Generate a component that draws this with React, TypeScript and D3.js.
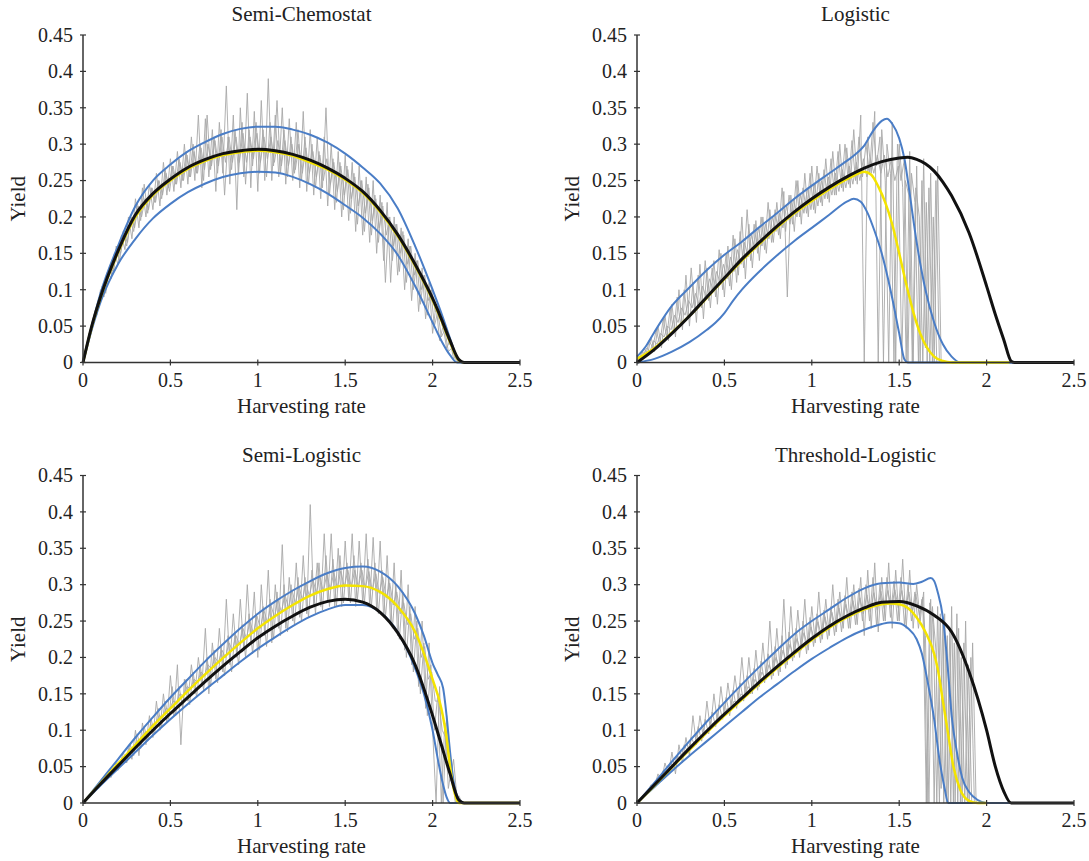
import React from 'react';
import * as d3 from 'd3';

type Pt = [number, number];

// ---------- axis ticks ----------
const xTickValues = [0, 0.5, 1, 1.5, 2, 2.5];
const xTickLabels = ['0', '0.5', '1', '1.5', '2', '2.5'];
const yTickValues = [0, 0.05, 0.1, 0.15, 0.2, 0.25, 0.3, 0.35, 0.4, 0.45];
const yTickLabels = ['0', '0.05', '0.1', '0.15', '0.2', '0.25', '0.3', '0.35', '0.4', '0.45'];

const panelTitles = ['Semi-Chemostat', 'Logistic', 'Semi-Logistic', 'Threshold-Logistic'];

// x grids of the simulated (gray) traces: A at 0, 0.02, ...; B at 0.01, 0.03, ...; C at 0.015, 0.035, ...
const GRAY_STEP = 0.02;
const GRAY_STARTS = [0, 0.01, 0.015];

// ---------- Semi-Chemostat ----------
const chemoGrayA = [
  0, 0.025, 0.035, 0.06, 0.065, 0.1, 0.09, 0.125, 0.115, 0.15,
  0.135, 0.175, 0.155, 0.2, 0.17, 0.225, 0.185, 0.24, 0.2, 0.245,
  0.21, 0.26, 0.215, 0.275, 0.23, 0.28, 0.235, 0.29, 0.24, 0.3,
  0.245, 0.31, 0.25, 0.34, 0.24, 0.335, 0.255, 0.32, 0.235, 0.33,
  0.26, 0.38, 0.245, 0.34, 0.21, 0.35, 0.255, 0.37, 0.24, 0.345,
  0.235, 0.36, 0.25, 0.39, 0.25, 0.34, 0.255, 0.35, 0.245, 0.335,
  0.25, 0.33, 0.24, 0.345, 0.235, 0.32, 0.23, 0.31, 0.225, 0.31,
  0.215, 0.3, 0.21, 0.29, 0.2, 0.285, 0.195, 0.275, 0.18, 0.27,
  0.175, 0.255, 0.165, 0.25, 0.15, 0.23, 0.14, 0.22, 0.11, 0.2,
  0.12, 0.185, 0.1, 0.17, 0.085, 0.15, 0.07, 0.13, 0.06, 0.11,
  0.04, 0.08, 0.03, 0.05, 0.02, 0.03, 0.005, 0.01, 0, 0, 0,
];
const chemoGrayB = [
  0.01, 0.028, 0.045, 0.07, 0.075, 0.105, 0.095, 0.13, 0.12, 0.16,
  0.14, 0.18, 0.16, 0.195, 0.18, 0.22, 0.195, 0.245, 0.205, 0.24,
  0.22, 0.25, 0.225, 0.265, 0.24, 0.27, 0.245, 0.28, 0.25, 0.29,
  0.255, 0.3, 0.26, 0.3, 0.25, 0.34, 0.265, 0.31, 0.26, 0.32,
  0.23, 0.31, 0.265, 0.32, 0.26, 0.33, 0.245, 0.32, 0.27, 0.33,
  0.26, 0.32, 0.255, 0.33, 0.27, 0.36, 0.26, 0.32, 0.255, 0.31,
  0.26, 0.32, 0.25, 0.31, 0.245, 0.3, 0.24, 0.29, 0.24, 0.35,
  0.23, 0.28, 0.22, 0.275, 0.21, 0.27, 0.205, 0.26, 0.19, 0.25,
  0.18, 0.245, 0.175, 0.23, 0.165, 0.22, 0.11, 0.2, 0.14, 0.19,
  0.125, 0.18, 0.11, 0.16, 0.1, 0.14, 0.08, 0.12, 0.065, 0.1,
  0.05, 0.07, 0.035, 0.045, 0.015, 0.02, 0.005, 0, 0, 0,
];
const chemoGrayC = [
  0.015, 0.04, 0.05, 0.075, 0.08, 0.105, 0.11, 0.13, 0.125, 0.16,
  0.15, 0.175, 0.165, 0.2, 0.185, 0.215, 0.2, 0.225, 0.21, 0.24,
  0.22, 0.25, 0.23, 0.26, 0.235, 0.27, 0.245, 0.275, 0.25, 0.285,
  0.255, 0.29, 0.26, 0.295, 0.265, 0.3, 0.27, 0.305, 0.27, 0.31,
  0.275, 0.31, 0.275, 0.31, 0.275, 0.315, 0.275, 0.31, 0.28, 0.315,
  0.275, 0.31, 0.28, 0.31, 0.275, 0.305, 0.27, 0.305, 0.27, 0.3,
  0.265, 0.3, 0.26, 0.295, 0.26, 0.29, 0.255, 0.285, 0.25, 0.28,
  0.245, 0.275, 0.235, 0.27, 0.23, 0.265, 0.225, 0.255, 0.215, 0.25,
  0.205, 0.24, 0.195, 0.225, 0.185, 0.215, 0.175, 0.2, 0.16, 0.19,
  0.15, 0.175, 0.135, 0.16, 0.12, 0.14, 0.1, 0.12, 0.085, 0.1,
  0.07, 0.075, 0.05, 0.05, 0.025, 0.025, 0.005, 0, 0, 0,
];
const chemoUpper: Pt[] = [
  [0, 0], [0.05, 0.05], [0.1, 0.095], [0.2, 0.16], [0.3, 0.215], [0.4, 0.25], [0.5, 0.272],
  [0.6, 0.29], [0.7, 0.303], [0.8, 0.314], [0.9, 0.321], [1.0, 0.324], [1.1, 0.324], [1.2, 0.32],
  [1.3, 0.313], [1.4, 0.302], [1.5, 0.287], [1.6, 0.268], [1.7, 0.246], [1.8, 0.212], [1.9, 0.16],
  [2.0, 0.1], [2.05, 0.068], [2.1, 0.033], [2.14, 0.006], [2.17, 0], [2.5, 0],
];
const chemoLower: Pt[] = [
  [0, 0], [0.05, 0.045], [0.1, 0.083], [0.2, 0.135], [0.3, 0.17], [0.4, 0.198], [0.5, 0.218],
  [0.6, 0.234], [0.7, 0.246], [0.8, 0.255], [0.9, 0.26], [1.0, 0.262], [1.1, 0.261], [1.2, 0.255],
  [1.3, 0.245], [1.4, 0.232], [1.5, 0.216], [1.6, 0.199], [1.7, 0.177], [1.8, 0.148], [1.9, 0.105],
  [2.0, 0.055], [2.05, 0.03], [2.1, 0.01], [2.14, 0], [2.5, 0],
];
const chemoYellow: Pt[] = [
  [0, 0], [0.05, 0.049], [0.1, 0.089], [0.2, 0.151], [0.3, 0.2], [0.4, 0.23], [0.5, 0.25],
  [0.6, 0.266], [0.7, 0.277], [0.8, 0.285], [0.9, 0.289], [1.0, 0.291], [1.1, 0.289], [1.2, 0.284],
  [1.3, 0.275], [1.4, 0.265], [1.5, 0.251], [1.6, 0.233], [1.7, 0.207], [1.8, 0.174], [1.9, 0.133],
  [2.0, 0.086], [2.05, 0.058], [2.1, 0.028], [2.15, 0.003], [2.18, 0], [2.5, 0],
];
const chemoBlack: Pt[] = [
  [0, 0], [0.05, 0.05], [0.1, 0.09], [0.2, 0.153], [0.3, 0.203], [0.4, 0.232], [0.5, 0.252],
  [0.6, 0.268], [0.7, 0.279], [0.8, 0.287], [0.9, 0.291], [1.0, 0.293], [1.1, 0.291], [1.2, 0.286],
  [1.3, 0.278], [1.4, 0.267], [1.5, 0.253], [1.6, 0.235], [1.7, 0.209], [1.8, 0.176], [1.9, 0.135],
  [2.0, 0.088], [2.05, 0.06], [2.1, 0.03], [2.15, 0.004], [2.18, 0], [2.5, 0],
];

// ---------- Logistic ----------
const logGrayA = [
  0.01, 0.005, 0.02, 0.01, 0.035, 0.015, 0.05, 0.02, 0.065, 0.03,
  0.08, 0.035, 0.1, 0.045, 0.12, 0.05, 0.11, 0.055, 0.135, 0.06,
  0.13, 0.075, 0.14, 0.08, 0.15, 0.09, 0.16, 0.1, 0.17, 0.12,
  0.2, 0.115, 0.19, 0.13, 0.195, 0.14, 0.2, 0.15, 0.21, 0.165,
  0.22, 0.17, 0.235, 0.09, 0.23, 0.18, 0.25, 0.19, 0.26, 0.2,
  0.27, 0.205, 0.26, 0.215, 0.28, 0.22, 0.29, 0.23, 0.3, 0.235,
  0.295, 0.24, 0.32, 0.245, 0.34, 0, 0.31, 0.26, 0.345, 0,
  0.32, 0.25, 0, 0.33, 0, 0.3, 0.24, 0, 0.29, 0,
  0.27, 0, 0.28, 0, 0.26, 0, 0.27, 0, 0, 0,
  0, 0, 0, 0, 0, 0, 0, 0, 0, 0,
  0, 0, 0, 0, 0, 0, 0, 0, 0, 0, 0,
];
const logGrayB = [
  0.005, 0.015, 0.01, 0.03, 0.02, 0.045, 0.025, 0.06, 0.035, 0.075,
  0.04, 0.09, 0.05, 0.1, 0.06, 0.13, 0.07, 0.12, 0.075, 0.14,
  0.085, 0.13, 0.09, 0.155, 0.1, 0.15, 0.105, 0.175, 0.11, 0.18,
  0.13, 0.21, 0.14, 0.19, 0.15, 0.2, 0.155, 0.22, 0.165, 0.21,
  0.175, 0.24, 0.18, 0.23, 0.19, 0.25, 0.2, 0.24, 0.205, 0.26,
  0.21, 0.27, 0.22, 0.265, 0.225, 0.28, 0.23, 0.29, 0.24, 0.3,
  0.245, 0.305, 0.25, 0.31, 0.255, 0.3, 0.26, 0.33, 0.27, 0.31,
  0, 0.3, 0.26, 0, 0.3, 0.25, 0.28, 0, 0.26, 0.22,
  0, 0.25, 0.02, 0.24, 0, 0.25, 0, 0, 0, 0,
  0, 0, 0, 0, 0, 0, 0, 0, 0, 0,
  0, 0, 0, 0, 0, 0, 0, 0, 0, 0,
];
const logGrayC = [
  0.005, 0.01, 0.02, 0.015, 0.03, 0.025, 0.04, 0.035, 0.05, 0.045,
  0.065, 0.055, 0.075, 0.065, 0.085, 0.075, 0.095, 0.08, 0.105, 0.09,
  0.115, 0.1, 0.125, 0.11, 0.135, 0.115, 0.145, 0.125, 0.155, 0.135,
  0.165, 0.145, 0.175, 0.155, 0.185, 0.16, 0.19, 0.17, 0.2, 0.18,
  0.205, 0.185, 0.215, 0.19, 0.225, 0.2, 0.23, 0.205, 0.24, 0.21,
  0.245, 0.215, 0.25, 0.225, 0.255, 0.23, 0.26, 0.235, 0.265, 0.24,
  0.27, 0.245, 0.275, 0.25, 0.28, 0.255, 0.28, 0.26, 0.285, 0.26,
  0.285, 0.255, 0.28, 0.25, 0.27, 0, 0.25, 0.23, 0, 0.24,
  0.2, 0, 0.22, 0, 0.2, 0, 0, 0, 0, 0,
  0, 0, 0, 0, 0, 0, 0, 0, 0, 0,
  0, 0, 0, 0, 0, 0, 0, 0, 0, 0,
];
const logUpper: Pt[] = [
  [0, 0.008], [0.05, 0.022], [0.1, 0.042], [0.2, 0.078], [0.3, 0.103], [0.4, 0.127], [0.5, 0.148],
  [0.6, 0.166], [0.7, 0.186], [0.8, 0.205], [0.9, 0.225], [1.0, 0.243], [1.1, 0.26], [1.2, 0.277],
  [1.25, 0.286], [1.3, 0.298], [1.35, 0.318], [1.4, 0.332], [1.43, 0.335], [1.46, 0.328], [1.5, 0.308],
  [1.53, 0.28], [1.56, 0.232], [1.6, 0.165], [1.65, 0.1], [1.7, 0.055], [1.75, 0.025], [1.8, 0.008],
  [1.85, 0], [2.5, 0],
];
const logLower: Pt[] = [
  [0, 0], [0.1, 0.005], [0.2, 0.015], [0.3, 0.028], [0.4, 0.045], [0.45, 0.055], [0.5, 0.068],
  [0.55, 0.085], [0.6, 0.1], [0.7, 0.125], [0.8, 0.147], [0.9, 0.167], [1.0, 0.185], [1.1, 0.203],
  [1.2, 0.221], [1.24, 0.225], [1.28, 0.221], [1.32, 0.205], [1.36, 0.18], [1.4, 0.15], [1.45, 0.1],
  [1.5, 0.04], [1.53, 0.004], [1.55, 0], [2.5, 0],
];
const logYellow: Pt[] = [
  [0, 0.005], [0.1, 0.02], [0.2, 0.041], [0.3, 0.064], [0.4, 0.089], [0.5, 0.115], [0.6, 0.14],
  [0.7, 0.163], [0.8, 0.185], [0.9, 0.205], [1.0, 0.222], [1.1, 0.238], [1.2, 0.252], [1.25, 0.258],
  [1.3, 0.262], [1.34, 0.258], [1.38, 0.242], [1.42, 0.22], [1.46, 0.19], [1.5, 0.15], [1.54, 0.108],
  [1.58, 0.07], [1.62, 0.04], [1.66, 0.02], [1.7, 0.008], [1.75, 0.002], [1.8, 0], [2.13, 0],
];
const logBlack: Pt[] = [
  [0, 0], [0.1, 0.018], [0.2, 0.04], [0.3, 0.064], [0.4, 0.09], [0.5, 0.116], [0.6, 0.142],
  [0.7, 0.165], [0.8, 0.187], [0.9, 0.207], [1.0, 0.225], [1.1, 0.241], [1.2, 0.255], [1.3, 0.267],
  [1.4, 0.276], [1.5, 0.281], [1.55, 0.282], [1.6, 0.279], [1.65, 0.273], [1.7, 0.263], [1.75, 0.248],
  [1.8, 0.229], [1.9, 0.178], [2.0, 0.105], [2.05, 0.066], [2.1, 0.03], [2.14, 0.002], [2.16, 0], [2.5, 0],
];
const logGreen: Pt[] = [[1.8, 0], [2.13, 0]];

// ---------- Semi-Logistic ----------
const semiGrayA = [
  0, 0.006, 0.008, 0.018, 0.02, 0.03, 0.028, 0.04, 0.035, 0.05,
  0.045, 0.06, 0.055, 0.075, 0.06, 0.1, 0.065, 0.11, 0.08, 0.12,
  0.09, 0.14, 0.1, 0.15, 0.11, 0.175, 0.12, 0.19, 0.08, 0.17,
  0.14, 0.19, 0.15, 0.2, 0.16, 0.24, 0.15, 0.22, 0.17, 0.24,
  0.18, 0.28, 0.19, 0.26, 0.2, 0.28, 0.21, 0.3, 0.22, 0.29,
  0.2, 0.3, 0.23, 0.32, 0.22, 0.3, 0.24, 0.355, 0.24, 0.31,
  0.25, 0.33, 0.255, 0.34, 0.26, 0.41, 0.27, 0.33, 0.27, 0.37,
  0.275, 0.37, 0.27, 0.35, 0.27, 0.36, 0.28, 0.37, 0.27, 0.36,
  0.275, 0.37, 0.27, 0.365, 0.265, 0.36, 0.255, 0.34, 0.245, 0.33,
  0.23, 0.32, 0.21, 0.3, 0.19, 0.27, 0.16, 0.25, 0.13, 0.22,
  0.1, 0, 0.16, 0, 0.12, 0.03, 0.06, 0.005, 0, 0, 0,
];
const semiGrayB = [
  0.003, 0.01, 0.012, 0.022, 0.02, 0.032, 0.03, 0.045, 0.04, 0.055,
  0.05, 0.07, 0.055, 0.08, 0.065, 0.095, 0.075, 0.105, 0.085, 0.115,
  0.095, 0.13, 0.105, 0.14, 0.115, 0.16, 0.12, 0.16, 0.13, 0.17,
  0.135, 0.18, 0.145, 0.19, 0.155, 0.2, 0.16, 0.21, 0.165, 0.215,
  0.175, 0.23, 0.18, 0.235, 0.19, 0.245, 0.2, 0.26, 0.205, 0.26,
  0.21, 0.27, 0.215, 0.28, 0.225, 0.29, 0.23, 0.3, 0.235, 0.3,
  0.245, 0.31, 0.25, 0.31, 0.255, 0.32, 0.26, 0.33, 0.265, 0.34,
  0.27, 0.335, 0.27, 0.34, 0.275, 0.33, 0.275, 0.34, 0.28, 0.33,
  0.275, 0.335, 0.27, 0.33, 0.26, 0.32, 0.255, 0.31, 0.24, 0.3,
  0.225, 0.29, 0.2, 0.27, 0.18, 0.25, 0.15, 0.22, 0.12, 0.19,
  0.1, 0.15, 0, 0.11, 0.02, 0.05, 0, 0.01, 0, 0,
];
const semiGrayC = [
  0.004, 0.01, 0.014, 0.02, 0.025, 0.03, 0.035, 0.042, 0.045, 0.053,
  0.057, 0.064, 0.068, 0.075, 0.078, 0.086, 0.088, 0.097, 0.098, 0.108,
  0.108, 0.12, 0.118, 0.13, 0.128, 0.14, 0.138, 0.15, 0.147, 0.16,
  0.157, 0.17, 0.166, 0.18, 0.175, 0.19, 0.184, 0.2, 0.193, 0.21,
  0.2, 0.22, 0.21, 0.23, 0.218, 0.24, 0.226, 0.25, 0.233, 0.257,
  0.24, 0.265, 0.248, 0.272, 0.255, 0.28, 0.262, 0.287, 0.268, 0.293,
  0.274, 0.298, 0.279, 0.303, 0.284, 0.308, 0.288, 0.312, 0.29, 0.315,
  0.293, 0.317, 0.295, 0.319, 0.296, 0.32, 0.297, 0.32, 0.296, 0.32,
  0.295, 0.318, 0.292, 0.315, 0.288, 0.31, 0.282, 0.302, 0.272, 0.29,
  0.26, 0.275, 0.245, 0.26, 0.225, 0.24, 0.2, 0.215, 0.17, 0.18,
  0.14, 0.14, 0.1, 0.09, 0.05, 0.03, 0.01, 0, 0, 0,
];
const semiUpper: Pt[] = [
  [0, 0], [0.1, 0.03], [0.2, 0.06], [0.3, 0.09], [0.4, 0.118], [0.5, 0.145], [0.6, 0.17],
  [0.7, 0.195], [0.8, 0.218], [0.9, 0.24], [1.0, 0.26], [1.1, 0.277], [1.2, 0.292], [1.3, 0.305],
  [1.4, 0.316], [1.5, 0.323], [1.6, 0.325], [1.7, 0.318], [1.8, 0.298], [1.9, 0.26], [1.95, 0.23],
  [2.0, 0.192], [2.03, 0.176], [2.06, 0.158], [2.08, 0.12], [2.1, 0.07], [2.12, 0.03], [2.15, 0.005],
  [2.18, 0], [2.5, 0],
];
const semiLower: Pt[] = [
  [0, 0], [0.1, 0.024], [0.2, 0.047], [0.3, 0.07], [0.4, 0.093], [0.5, 0.115], [0.6, 0.136],
  [0.7, 0.156], [0.8, 0.175], [0.9, 0.194], [1.0, 0.212], [1.1, 0.228], [1.2, 0.243], [1.3, 0.256],
  [1.4, 0.266], [1.5, 0.272], [1.6, 0.272], [1.7, 0.262], [1.8, 0.235], [1.9, 0.185], [1.95, 0.15],
  [2.0, 0.1], [2.03, 0.06], [2.06, 0.025], [2.08, 0.008], [2.1, 0], [2.5, 0],
];
const semiYellow: Pt[] = [
  [0, 0], [0.1, 0.027], [0.2, 0.054], [0.3, 0.08], [0.4, 0.106], [0.5, 0.13], [0.6, 0.154],
  [0.7, 0.177], [0.8, 0.199], [0.9, 0.22], [1.0, 0.24], [1.1, 0.257], [1.2, 0.272], [1.3, 0.285],
  [1.4, 0.294], [1.5, 0.299], [1.6, 0.298], [1.7, 0.29], [1.8, 0.27], [1.9, 0.235], [2.0, 0.17],
  [2.05, 0.13], [2.08, 0.09], [2.1, 0.05], [2.13, 0.01], [2.15, 0], [2.5, 0],
];
const semiBlack: Pt[] = [
  [0, 0], [0.1, 0.026], [0.2, 0.051], [0.3, 0.076], [0.4, 0.1], [0.5, 0.123], [0.6, 0.145],
  [0.7, 0.167], [0.8, 0.188], [0.9, 0.208], [1.0, 0.227], [1.1, 0.243], [1.2, 0.257], [1.3, 0.269],
  [1.4, 0.277], [1.5, 0.28], [1.6, 0.276], [1.7, 0.262], [1.8, 0.234], [1.9, 0.19], [2.0, 0.12],
  [2.05, 0.08], [2.1, 0.04], [2.15, 0.004], [2.18, 0], [2.5, 0],
];

// ---------- Threshold-Logistic ----------
const threshGrayA = [
  0, 0.005, 0.012, 0.015, 0.025, 0.022, 0.04, 0.03, 0.055, 0.04,
  0.07, 0.04, 0.08, 0.055, 0.09, 0.065, 0.12, 0.08, 0.12, 0.09,
  0.14, 0.1, 0.15, 0.11, 0.16, 0.12, 0.165, 0.13, 0.175, 0.14,
  0.2, 0.145, 0.2, 0.15, 0.21, 0.16, 0.22, 0.17, 0.25, 0.175,
  0.24, 0.18, 0.28, 0.19, 0.27, 0.2, 0.265, 0.21, 0.28, 0.21,
  0.27, 0.22, 0.29, 0.225, 0.28, 0.23, 0.3, 0.235, 0.29, 0.24,
  0.31, 0.24, 0.3, 0.245, 0.31, 0.23, 0.32, 0.24, 0.33, 0.235,
  0.31, 0.25, 0.33, 0.24, 0.32, 0.25, 0.335, 0.24, 0.32, 0.24,
  0.3, 0.25, 0.29, 0, 0.28, 0, 0.27, 0.02, 0.26, 0,
  0.27, 0, 0.24, 0, 0.25, 0, 0.22, 0, 0, 0,
  0, 0, 0, 0, 0, 0, 0, 0, 0, 0, 0,
];
const threshGrayB = [
  0.003, 0.008, 0.012, 0.02, 0.02, 0.03, 0.03, 0.045, 0.04, 0.055,
  0.05, 0.065, 0.06, 0.08, 0.07, 0.09, 0.08, 0.105, 0.085, 0.115,
  0.095, 0.125, 0.105, 0.135, 0.115, 0.145, 0.12, 0.155, 0.13, 0.165,
  0.14, 0.175, 0.15, 0.185, 0.155, 0.195, 0.165, 0.205, 0.17, 0.215,
  0.175, 0.23, 0.185, 0.235, 0.195, 0.24, 0.2, 0.25, 0.205, 0.255,
  0.215, 0.26, 0.22, 0.265, 0.225, 0.27, 0.23, 0.28, 0.235, 0.285,
  0.24, 0.29, 0.245, 0.295, 0.25, 0.3, 0.25, 0.31, 0.245, 0.3,
  0.25, 0.31, 0.255, 0.305, 0.25, 0.31, 0.245, 0.3, 0.25, 0.29,
  0.24, 0.28, 0.23, 0, 0.27, 0.21, 0, 0.25, 0, 0.24,
  0, 0.26, 0, 0.22, 0, 0.2, 0, 0, 0, 0,
  0, 0, 0, 0, 0, 0, 0, 0, 0, 0,
];
const threshGrayC = [
  0.004, 0.009, 0.014, 0.019, 0.024, 0.03, 0.034, 0.04, 0.044, 0.05,
  0.054, 0.06, 0.064, 0.07, 0.073, 0.08, 0.083, 0.09, 0.092, 0.1,
  0.101, 0.11, 0.11, 0.12, 0.118, 0.13, 0.127, 0.14, 0.136, 0.15,
  0.145, 0.16, 0.153, 0.17, 0.162, 0.18, 0.17, 0.19, 0.178, 0.2,
  0.186, 0.21, 0.194, 0.218, 0.202, 0.226, 0.21, 0.234, 0.217, 0.242,
  0.224, 0.249, 0.23, 0.256, 0.236, 0.262, 0.242, 0.268, 0.247, 0.273,
  0.252, 0.278, 0.256, 0.282, 0.26, 0.286, 0.263, 0.289, 0.265, 0.291,
  0.267, 0.292, 0.268, 0.293, 0.268, 0.292, 0.266, 0.29, 0.263, 0.287,
  0.258, 0.283, 0, 0.275, 0.245, 0, 0.26, 0, 0.23, 0,
  0.22, 0, 0.2, 0, 0.19, 0, 0, 0, 0, 0,
  0, 0, 0, 0, 0, 0, 0, 0, 0, 0,
];
const threshUpper: Pt[] = [
  [0, 0], [0.1, 0.028], [0.2, 0.057], [0.3, 0.085], [0.4, 0.112], [0.5, 0.138], [0.6, 0.163],
  [0.7, 0.187], [0.8, 0.21], [0.9, 0.232], [1.0, 0.25], [1.1, 0.266], [1.2, 0.282], [1.3, 0.295],
  [1.4, 0.302], [1.5, 0.303], [1.58, 0.301], [1.63, 0.304], [1.68, 0.309], [1.7, 0.305], [1.72, 0.29],
  [1.75, 0.255], [1.78, 0.18], [1.8, 0.12], [1.83, 0.07], [1.86, 0.035], [1.9, 0.015], [1.95, 0.004],
  [2.0, 0], [2.5, 0],
];
const threshLower: Pt[] = [
  [0, 0], [0.1, 0.022], [0.2, 0.044], [0.3, 0.065], [0.4, 0.085], [0.5, 0.105], [0.6, 0.125],
  [0.7, 0.145], [0.8, 0.163], [0.9, 0.181], [1.0, 0.198], [1.1, 0.213], [1.2, 0.227], [1.3, 0.238],
  [1.4, 0.246], [1.45, 0.248], [1.5, 0.247], [1.55, 0.24], [1.6, 0.225], [1.63, 0.205], [1.66, 0.17],
  [1.7, 0.115], [1.73, 0.06], [1.76, 0.02], [1.78, 0], [2.5, 0],
];
const threshYellow: Pt[] = [
  [0, 0], [0.1, 0.024], [0.2, 0.049], [0.3, 0.073], [0.4, 0.097], [0.5, 0.12], [0.6, 0.142],
  [0.7, 0.164], [0.8, 0.185], [0.9, 0.205], [1.0, 0.224], [1.1, 0.241], [1.2, 0.255], [1.3, 0.266],
  [1.4, 0.273], [1.45, 0.274], [1.5, 0.273], [1.55, 0.268], [1.6, 0.255], [1.65, 0.235], [1.7, 0.205],
  [1.72, 0.185], [1.75, 0.14], [1.78, 0.095], [1.81, 0.05], [1.85, 0.018], [1.9, 0.003], [1.95, 0],
  [2.0, 0],
];
const threshBlack: Pt[] = [
  [0, 0], [0.1, 0.025], [0.2, 0.05], [0.3, 0.075], [0.4, 0.099], [0.5, 0.122], [0.6, 0.144],
  [0.7, 0.166], [0.8, 0.187], [0.9, 0.207], [1.0, 0.226], [1.1, 0.243], [1.2, 0.257], [1.3, 0.268],
  [1.4, 0.276], [1.5, 0.277], [1.6, 0.271], [1.7, 0.258], [1.8, 0.235], [1.9, 0.18], [2.0, 0.1],
  [2.05, 0.05], [2.1, 0.015], [2.14, 0], [2.5, 0],
];
const threshGreen: Pt[] = [[1.95, 0], [2.13, 0]];

// ---------- layout ----------
const W = 1089;
const H = 861;
const PLOT_W = 437;
const PLOT_H = 327.5;
const panelOrigins = [
  { left: 83, top: 35 },
  { left: 637, top: 35 },
  { left: 83, top: 475.5 },
  { left: 637, top: 475.5 },
];

const FONT = "'Liberation Serif', 'DejaVu Serif', serif";
const COL_GRAY = '#a8a8a8';
const COL_BLUE = '#4a7dc6';
const COL_YELLOW = '#f4e400';
const COL_BLACK = '#111111';
const COL_GREEN = '#8cc63e';
const COL_AXIS = '#333333';

interface PanelData {
  title: string;
  grays: number[][];
  upper: Pt[];
  lower: Pt[];
  yellow: Pt[];
  black: Pt[];
  green?: Pt[];
}

const panels: PanelData[] = [
  { title: panelTitles[0], grays: [chemoGrayA, chemoGrayB, chemoGrayC], upper: chemoUpper, lower: chemoLower, yellow: chemoYellow, black: chemoBlack },
  { title: panelTitles[1], grays: [logGrayA, logGrayB, logGrayC], upper: logUpper, lower: logLower, yellow: logYellow, black: logBlack, green: logGreen },
  { title: panelTitles[2], grays: [semiGrayA, semiGrayB, semiGrayC], upper: semiUpper, lower: semiLower, yellow: semiYellow, black: semiBlack },
  { title: panelTitles[3], grays: [threshGrayA, threshGrayB, threshGrayC], upper: threshUpper, lower: threshLower, yellow: threshYellow, black: threshBlack, green: threshGreen },
];

function Panel({ data, left, top }: { data: PanelData; left: number; top: number }) {
  const x = d3.scaleLinear().domain([0, 2.5]).range([0, PLOT_W]);
  const y = d3.scaleLinear().domain([0, 0.45]).range([PLOT_H, 0]);
  const smooth = d3.line<Pt>().x((d) => x(d[0])).y((d) => y(d[1])).curve(d3.curveMonotoneX);
  const straight = d3.line<Pt>().x((d) => x(d[0])).y((d) => y(d[1]));

  return (
    <g transform={`translate(${left},${top})`}>
      {data.grays.map((g, k) => {
        const pts: Pt[] = g.map((v, i) => [GRAY_STARTS[k] + GRAY_STEP * i, v]);
        return (
          <path key={`g${k}`} d={straight(pts) || ''} fill="none" stroke={COL_GRAY} strokeWidth={0.9} strokeLinejoin="round" />
        );
      })}
      {data.green && <path d={straight(data.green) || ''} fill="none" stroke={COL_GREEN} strokeWidth={2} />}
      <path d={smooth(data.upper) || ''} fill="none" stroke={COL_BLUE} strokeWidth={2} />
      <path d={smooth(data.lower) || ''} fill="none" stroke={COL_BLUE} strokeWidth={2} />
      <path d={smooth(data.yellow) || ''} fill="none" stroke={COL_YELLOW} strokeWidth={2.5} />
      <path d={smooth(data.black) || ''} fill="none" stroke={COL_BLACK} strokeWidth={3} />

      {/* y axis */}
      <line x1={0} x2={0} y1={0} y2={PLOT_H} stroke={COL_AXIS} strokeWidth={1.5} />
      {yTickValues.map((v, i) => (
        <g key={`y${i}`} transform={`translate(0,${y(v)})`}>
          <line x1={-3} x2={3} stroke={COL_AXIS} strokeWidth={1.2} />
          <text x={-10} dy="0.34em" textAnchor="end" fontSize={20} fontFamily={FONT} fill="#222">
            {yTickLabels[i]}
          </text>
        </g>
      ))}
      {/* x axis */}
      <line x1={0} x2={PLOT_W} y1={PLOT_H} y2={PLOT_H} stroke={COL_AXIS} strokeWidth={1.5} />
      {xTickValues.map((v, i) => (
        <g key={`x${i}`} transform={`translate(${x(v)},${PLOT_H})`}>
          <line y1={-3} y2={3} stroke={COL_AXIS} strokeWidth={1.2} />
          <text y={24} textAnchor="middle" fontSize={20} fontFamily={FONT} fill="#222">
            {xTickLabels[i]}
          </text>
        </g>
      ))}
      <text x={PLOT_W / 2} y={-14} textAnchor="middle" fontSize={21} fontFamily={FONT} fill="#222">
        {data.title}
      </text>
      <text x={PLOT_W / 2} y={PLOT_H + 50} textAnchor="middle" fontSize={21} fontFamily={FONT} fill="#222">
        Harvesting rate
      </text>
      <text
        transform={`translate(-58,${PLOT_H / 2}) rotate(-90)`}
        textAnchor="middle"
        fontSize={21}
        fontFamily={FONT}
        fill="#222"
      >
        Yield
      </text>
    </g>
  );
}

export default function App() {
  return (
    <svg
      width={W}
      height={H}
      viewBox={`0 0 ${W} ${H}`}
      style={{ position: 'absolute', left: 0, top: 0, background: '#fff', display: 'block' }}
    >
      <rect width={W} height={H} fill="#fff" />
      {panels.map((p, i) => (
        <Panel key={i} data={p} left={panelOrigins[i].left} top={panelOrigins[i].top} />
      ))}
    </svg>
  );
}
